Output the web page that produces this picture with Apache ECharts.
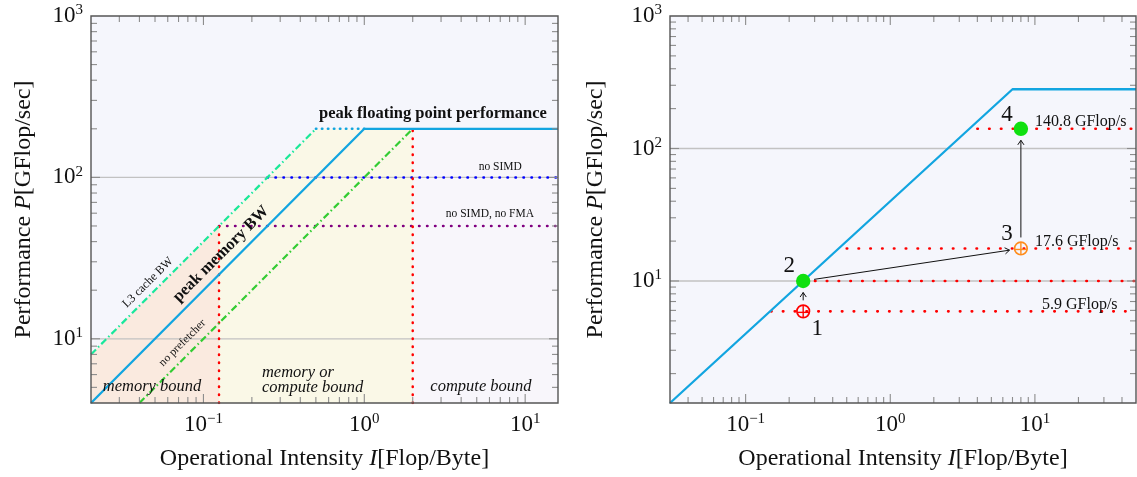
<!DOCTYPE html>
<html>
<head>
<meta charset="utf-8">
<title>Roofline</title>
<script src="https://cdn.jsdelivr.net/npm/echarts@6/dist/echarts.min.js"></script>
<style>
html,body{margin:0;padding:0;background:#fff;}
#main{width:1137px;height:477px;}
</style>
</head>
<body>
<div id="main"></div>
<script>
// left chart: roofline with ceilings
var leftX = [0.02, 16];
var leftY = [4, 1000];
var peakRoof = [[0.02, 4], [1, 200], [16, 200]];
var l3Roof = [[0.02, 8], [0.5, 200]];
var l3Cap = [[0.5, 200], [1, 200]];
var noPrefetch = [[0.04, 4], [2, 200]];
var noSimd = [[0.25, 100], [16, 100]];
var noSimdFma = [[0.125, 50], [16, 50]];
var bounds = [[[0.125, 4], [0.125, 50]], [[2, 4], [2, 200]]];
var regions = [
  [[0.02, 4], [0.02, 8], [0.125, 50], [0.125, 4]],
  [[0.125, 4], [0.125, 50], [0.5, 200], [2, 200], [2, 4]],
  [[2, 4], [2, 200], [16, 200], [16, 4]]
];

// right chart: optimisation steps
var rightX = [0.03, 50];
var rightY = [1.2, 1000];
var roof2 = [[0.03, 1.2], [7, 280], [50, 280]];
var steps = [[0.25, 5.9], [0.25, 10], [8, 17.6], [8, 140.8]];
var stepNames = ['1', '2', '3', '4'];
var levels = [[[0.15, 5.9], [50, 5.9]], [[0.25, 10], [50, 10]], [[0.5, 17.6], [50, 17.6]], [[4, 140.8], [50, 140.8]]];
var levelText = [[11.2, 5.9, '5.9 GFlop/s'], [10, 17.6, '17.6 GFlop/s'], [10, 140.8, '140.8 GFlop/s']];

// axis labels
var xTickLabels = [0.1, 1, 10];
var yTickLabels = [10, 100, 1000];
var yGrid = [10, 100];
var minorMult = [2, 3, 4, 5, 6, 7, 8, 9];

var SERIF = '"Liberation Serif", "DejaVu Serif", serif';

// text on the left chart, anchored in data coordinates
var leftNotes = [
  {t: 'peak floating point performance', at: [2.67, 247], f: 'bold 16.5px ' + SERIF, r: 0},
  {t: 'no SIMD', at: [7, 116], f: '11.5px ' + SERIF, r: 0},
  {t: 'no SIMD, no FMA', at: [6.04, 59.3], f: '11.5px ' + SERIF, r: 0},
  {t: 'L3 cache BW', at: [0.0452, 22.3], f: '12px ' + SERIF, r: 45},
  {t: 'peak memory BW', at: [0.1286, 33.5], f: 'bold 16.5px ' + SERIF, r: 45},
  {t: 'no prefetcher', at: [0.0741, 9.42], f: '11.5px ' + SERIF, r: 45},
  {t: 'memory bound', at: [0.0479, 5.04], f: 'italic 16.5px ' + SERIF, r: 0},
  {t: 'memory or', at: [0.231, 6.2], f: 'italic 16.5px ' + SERIF, r: 0, a: 'left'},
  {t: 'compute bound', at: [0.231, 5.0], f: 'italic 16.5px ' + SERIF, r: 0, a: 'left'},
  {t: 'compute bound', at: [5.31, 5.04], f: 'italic 16.5px ' + SERIF, r: 0}
];
var stepMark = ['red', 'green', 'orange', 'green'];
var stepLabelOffset = [[14, 18], [-14, -15], [-14, -15], [-14, -14]];

function powLabel(v) {
  var l = Math.log10(v), e = Math.round(l);
  if (Math.abs(l - e) > 1e-6) return '';
  return '{b|10}{s|' + (e < 0 ? '\u2212' + (-e) : e) + '}';
}
var labelRich = {
  b: {fontFamily: SERIF, fontSize: 23, lineHeight: 26, color: '#111'},
  s: {fontFamily: SERIF, fontSize: 15, lineHeight: 15, verticalAlign: 'top', color: '#111'}
};
var nameRich = {
  r: {fontFamily: SERIF, fontSize: 24, color: '#111'},
  i: {fontFamily: SERIF, fontSize: 24, fontStyle: 'italic', color: '#111'}
};

function logTicks(ext) {
  var out = [];
  var lo = Math.floor(Math.log10(ext[0])), hi = Math.ceil(Math.log10(ext[1]));
  for (var k = lo; k <= hi; k++) {
    [1].concat(minorMult).forEach(function (m) {
      var v = m * Math.pow(10, k);
      if (v > ext[0] * 1.001 && v < ext[1] * 0.999) out.push({v: v, major: m === 1});
    });
  }
  return out;
}

function seg(x1, y1, x2, y2, stroke, w) {
  return {type: 'line', shape: {x1: x1, y1: y1, x2: x2, y2: y2}, style: {stroke: stroke, lineWidth: w}};
}

// box and ticks on all four sides
function frameSeries(g, xExt, yExt) {
  var xt = logTicks(xExt), yt = logTicks(yExt);
  return {
    type: 'custom', xAxisIndex: g, yAxisIndex: g, z: 10, silent: true,
    data: [[xt[0].v, yt[0].v]],
    renderItem: function (params, api) {
      var cs = params.coordSys;
      var x0 = cs.x, y0 = cs.y, x1 = cs.x + cs.width, y1 = cs.y + cs.height;
      var kids = [];
      xt.forEach(function (t) {
        var px = api.coord([t.v, yExt[0]])[0], len = t.major ? 9 : 6;
        kids.push(seg(px, y1, px, y1 - len, '#8c8c8c', 1.1), seg(px, y0, px, y0 + len, '#8c8c8c', 1.1));
      });
      yt.forEach(function (t) {
        var py = api.coord([xExt[0], t.v])[1], len = t.major ? 9 : 6;
        kids.push(seg(x0, py, x0 + len, py, '#8c8c8c', 1.1), seg(x1, py, x1 - len, py, '#8c8c8c', 1.1));
      });
      kids.push({type: 'rect', shape: {x: x0, y: y0, width: cs.width, height: cs.height},
        style: {fill: 'none', stroke: '#555', lineWidth: 1.4}});
      return {type: 'group', children: kids};
    }
  };
}

function gridLineSeries(g, xExt) {
  return {
    type: 'custom', xAxisIndex: g, yAxisIndex: g, z: 2, silent: true,
    data: yGrid.map(function (v) { return [xExt[0], v]; }),
    renderItem: function (params, api) {
      var cs = params.coordSys;
      var py = api.coord([api.value(0), api.value(1)])[1];
      return seg(cs.x, py, cs.x + cs.width, py, '#c2c2c2', 1.3);
    }
  };
}

function lineSeries(g, data, color, width, dash, cap, z) {
  return {
    type: 'line', xAxisIndex: g, yAxisIndex: g, data: data, symbol: 'none', silent: true, z: z || 3,
    lineStyle: {color: color, width: width, type: dash || 'solid', cap: cap || 'butt'}
  };
}

function noteSeries(g, notes) {
  return {
    type: 'custom', xAxisIndex: g, yAxisIndex: g, z: 6, silent: true,
    data: notes.map(function (n) { return n.at; }),
    renderItem: function (params, api) {
      var n = notes[params.dataIndex];
      var p = api.coord(n.at);
      return {type: 'text', x: p[0], y: p[1], rotation: n.r * Math.PI / 180,
        style: {text: n.t, font: n.f, fill: '#111', align: n.a || 'center', verticalAlign: 'middle'}};
    }
  };
}

var regionColors = ['#faeadf', '#faf8e7', '#f8f6fb'];
var dotRed = [0.5, 7.5];

var series = [
  {
    type: 'custom', xAxisIndex: 0, yAxisIndex: 0, z: 1, silent: true,
    data: regions.map(function (r) { return r[0]; }),
    renderItem: function (params, api) {
      var poly = regions[params.dataIndex];
      return {type: 'polygon', shape: {points: poly.map(function (p) { return api.coord(p); })},
        style: {fill: regionColors[params.dataIndex]}};
    }
  },
  gridLineSeries(0, leftX),
  lineSeries(0, noSimdFma, '#800080', 2.5, [0.5, 7.5], 'round'),
  lineSeries(0, noSimd, '#0000ff', 2.5, [0.5, 7.5], 'round'),
  lineSeries(0, bounds[0], '#ff0000', 2.5, dotRed, 'round'),
  lineSeries(0, bounds[1], '#ff0000', 2.5, dotRed, 'round'),
  lineSeries(0, l3Cap, '#12a5e0', 2.5, [0.5, 5.5], 'round'),
  lineSeries(0, l3Roof, '#19e89a', 2.2, [7, 3, 1.5, 3]),
  lineSeries(0, noPrefetch, '#33cc33', 2.2, [7, 3, 1.5, 3]),
  lineSeries(0, peakRoof, '#12a5e0', 2.3, 'solid', 'butt', 4),
  noteSeries(0, leftNotes),
  frameSeries(0, leftX, leftY),

  gridLineSeries(1, rightX)
];
levels.forEach(function (l) {
  series.push(lineSeries(1, l, '#ff0000', 2.6, [0.5, 11.3], 'round'));
});
series.push(lineSeries(1, roof2, '#12a5e0', 2.3, 'solid', 'butt', 4));
// arrows between the steps
series.push({
  type: 'custom', xAxisIndex: 1, yAxisIndex: 1, z: 5, silent: true,
  data: steps.slice(0, steps.length - 1),
  renderItem: function (params, api) {
    var a = api.coord(steps[params.dataIndex]), b = api.coord(steps[params.dataIndex + 1]);
    var dx = b[0] - a[0], dy = b[1] - a[1], L = Math.sqrt(dx * dx + dy * dy);
    var ux = dx / L, uy = dy / L;
    var s = [a[0] + ux * 11, a[1] + uy * 11], e = [b[0] - ux * 11.5, b[1] - uy * 11.5];
    var h = 5.5, ang = 0.6;
    function back(t) {
      var c = Math.cos(t), sn = Math.sin(t);
      return [e[0] - h * (ux * c - uy * sn), e[1] - h * (uy * c + ux * sn)];
    }
    return {type: 'group', children: [
      seg(s[0], s[1], e[0], e[1], '#111', 1),
      {type: 'polyline', shape: {points: [back(ang), e, back(-ang)]}, style: {stroke: '#111', lineWidth: 1, fill: 'none'}}
    ]};
  }
});
// step markers
series.push({
  type: 'custom', xAxisIndex: 1, yAxisIndex: 1, z: 6, silent: true,
  data: steps,
  renderItem: function (params, api) {
    var c = api.coord([api.value(0), api.value(1)]);
    var kind = stepMark[params.dataIndex];
    var off = stepLabelOffset[params.dataIndex];
    var kids = [];
    if (kind === 'green') {
      kids.push({type: 'circle', shape: {cx: c[0], cy: c[1], r: 7.2}, style: {fill: '#10e010'}});
    } else {
      var col = kind === 'red' ? '#ff0000' : '#ff8c1a', r = 6.3;
      kids.push({type: 'circle', shape: {cx: c[0], cy: c[1], r: r}, style: {fill: 'none', stroke: col, lineWidth: 1.7}});
      kids.push(seg(c[0], c[1] - r, c[0], c[1] + r, col, 1.4));
      kids.push(seg(c[0] - r, c[1] + 1, c[0] + r, c[1] + 1, col, 1.4));
    }
    kids.push({type: 'text', x: c[0] + off[0], y: c[1] + off[1],
      style: {text: stepNames[params.dataIndex], font: '23px ' + SERIF, fill: '#111', align: 'center', verticalAlign: 'middle'}});
    return {type: 'group', children: kids};
  }
});
series.push({
  type: 'custom', xAxisIndex: 1, yAxisIndex: 1, z: 6, silent: true,
  data: levelText.map(function (t) { return [t[0], t[1]]; }),
  renderItem: function (params, api) {
    var t = levelText[params.dataIndex];
    var p = api.coord([t[0], t[1]]);
    return {type: 'text', x: p[0], y: p[1] - 7,
      style: {text: t[2], font: '16px ' + SERIF, fill: '#111', align: 'left', verticalAlign: 'middle'}};
  }
});
series.push(frameSeries(1, rightX, rightY));

function xAxisOf(g, ext) {
  return {
    type: 'log', logBase: 10, gridIndex: g, min: ext[0], max: ext[1],
    axisLine: {show: false}, axisTick: {show: false}, splitLine: {show: false},
    axisLabel: {customValues: xTickLabels, formatter: powLabel, rich: labelRich, margin: 9},
    name: '{r|Operational Intensity }{i|I}{r|[Flop/Byte]}', nameLocation: 'middle', nameGap: 44,
    nameTextStyle: {rich: nameRich}
  };
}
function yAxisOf(g, ext, gap) {
  return {
    type: 'log', logBase: 10, gridIndex: g, min: ext[0], max: ext[1],
    axisLine: {show: false}, axisTick: {show: false}, splitLine: {show: false},
    axisLabel: {customValues: yTickLabels, formatter: powLabel, rich: labelRich, margin: 8},
    name: '{r|Performance }{i|P}{r|[GFlop/sec]}', nameLocation: 'middle', nameGap: gap,
    nameTextStyle: {rich: nameRich}
  };
}

var chart = echarts.init(document.getElementById('main'));
chart.setOption({
  animation: false,
  backgroundColor: '#fff',
  grid: [
    {left: 91, top: 16, width: 467, height: 387, show: true, backgroundColor: '#f5f6fc', borderWidth: 0},
    {left: 670, top: 16, width: 466, height: 387, show: true, backgroundColor: '#f5f6fc', borderWidth: 0}
  ],
  xAxis: [xAxisOf(0, leftX), xAxisOf(1, rightX)],
  yAxis: [yAxisOf(0, leftY, 55), yAxisOf(1, rightY, 62)],
  series: series
});
</script>
</body>
</html>
